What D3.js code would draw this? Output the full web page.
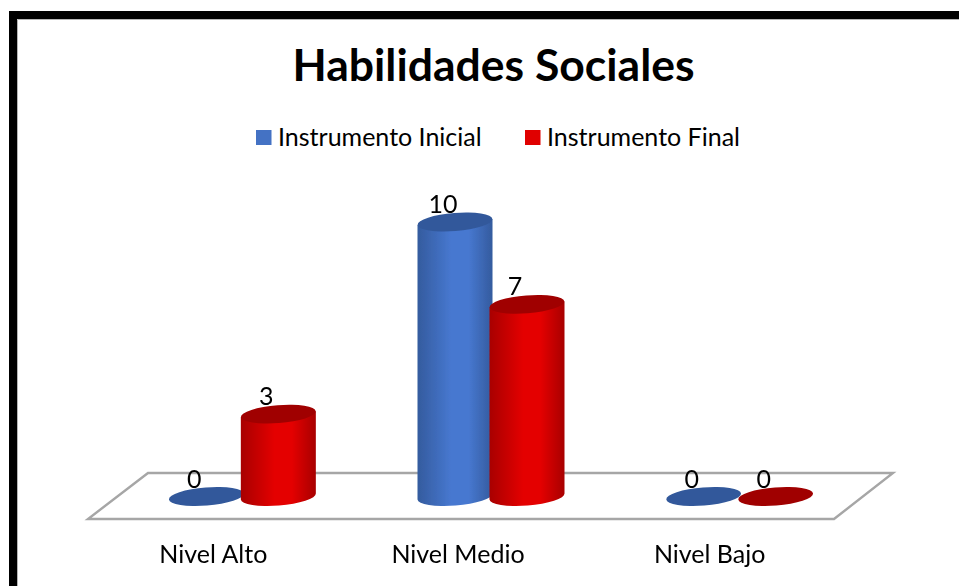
<!DOCTYPE html>
<html>
<head>
<meta charset="utf-8">
<script src="https://cdn.jsdelivr.net/npm/d3@7/dist/d3.min.js"></script>
<style>
body { margin: 0; background: #fff; }
svg { display: block; }
text { font-family: Lato, "Open Sans", sans-serif; fill: #000; }
</style>
</head>
<body>
<div id="chart-area"></div>
<script>
var categories = ["Nivel Alto", "Nivel Medio", "Nivel Bajo"];
var seriesNames = ["Instrumento Inicial", "Instrumento Final"];
var inicial = [0, 10, 0];
var final = [3, 7, 0];

var width = 959;
var height = 586;

var colors = {
	"Instrumento Inicial": {legend: "#4472c4", edge: "#345b9e", mid: "#4778d0", top: "#32599b"},
	"Instrumento Final": {legend: "#e00000", edge: "#a80000", mid: "#e40000", top: "#a00000"}
};

var svg = d3.select("#chart-area").append("svg")
	.attr("width", width)
	.attr("height", height);

var defs = svg.append("defs");
seriesNames.forEach((s, i) => {
	var g = defs.append("linearGradient").attr("id", "cyl" + i);
	g.append("stop").attr("offset", "0%").attr("stop-color", colors[s].edge);
	g.append("stop").attr("offset", "45%").attr("stop-color", colors[s].mid);
	g.append("stop").attr("offset", "68%").attr("stop-color", colors[s].mid);
	g.append("stop").attr("offset", "100%").attr("stop-color", colors[s].edge);
});
defs.append("filter").attr("id", "soft")
	.append("feGaussianBlur").attr("stdDeviation", 0.6);

// frame, only top and left are visible
svg.append("path")
	.attr("d", "M13,586V15H959")
	.attr("fill", "none")
	.attr("stroke", "#000")
	.attr("stroke-width", 8);
svg.append("path")
	.attr("d", "M17.5,586V19.5H959")
	.attr("fill", "none")
	.attr("stroke", "#b5b5b5")
	.attr("stroke-width", 1);

svg.append("text")
	.attr("x", 493.5)
	.attr("y", 81)
	.attr("text-anchor", "middle")
	.attr("font-size", 44.5)
	.attr("font-weight", "bold")
	.text("Habilidades Sociales");

// legend
var legendX = [256, 525];
seriesNames.forEach((s, i) => {
	svg.append("rect")
		.attr("x", legendX[i])
		.attr("y", 130)
		.attr("width", 15.5)
		.attr("height", 15)
		.attr("fill", colors[s].legend);
	svg.append("text")
		.attr("x", legendX[i] + 22)
		.attr("y", 146)
		.attr("font-size", 25)
		.text(s);
});

var x0 = d3.scaleBand()
	.domain(categories)
	.range([118, 864]);
var x1 = d3.scaleBand()
	.domain(seriesNames)
	.range([x0.bandwidth() / 2 - 72, x0.bandwidth() / 2 + 72]);
var y = d3.scaleLinear()
	.domain([0, 10])
	.range([496.5, 222]);

// floor
var floorTop = y(0) - 23.5;
var floorBottom = y(0) + 22.5;
svg.append("path")
	.attr("d", [
		"M", x0.range()[0] + 30, floorTop,
		"L", x0.range()[1] + 29, floorTop,
		"L", x0.range()[1] - 30, floorBottom,
		"L", x0.range()[0] - 30, floorBottom, "Z"
	].join(" "))
	.attr("fill", "#fff")
	.attr("stroke", "#a6a6a6")
	.attr("stroke-width", 2.4);

var rx = 37.5;
var ry = 9;
var tilt = -4.5;
var dy = rx * Math.sin(-tilt * Math.PI / 180);

var rows = [];
categories.forEach((c, i) => {
	rows.push({cat: c, s: seriesNames[0], si: 0, v: inicial[i]});
	rows.push({cat: c, s: seriesNames[1], si: 1, v: final[i]});
});

var bars = svg.append("g").attr("filter", "url(#soft)");

rows.forEach((d) => {
	var cx = x0(d.cat) + x1(d.s) + x1.bandwidth() / 2;
	var yt = y(d.v);
	var yb = y(0);
	if (d.v > 0) {
		bars.append("path")
			.attr("d", "M" + (cx - rx) + "," + (yt + dy) +
				"L" + (cx - rx) + "," + (yb + dy) +
				"A" + rx + "," + ry + " " + tilt + " 0 0 " + (cx + rx) + "," + (yb - dy) +
				"L" + (cx + rx) + "," + (yt - dy) + "Z")
			.attr("fill", "url(#cyl" + d.si + ")");
	}
	bars.append("ellipse")
		.attr("cx", cx)
		.attr("cy", yt)
		.attr("rx", rx)
		.attr("ry", ry)
		.attr("transform", "rotate(" + tilt + "," + cx + "," + yt + ")")
		.attr("fill", colors[d.s].top);
});

// value labels sit up and left of the cylinder top
rows.forEach((d) => {
	svg.append("text")
		.attr("x", x0(d.cat) + x1(d.s) + x1.bandwidth() / 2 - 12)
		.attr("y", y(d.v) - 9)
		.attr("text-anchor", "middle")
		.attr("font-size", 25)
		.text(d.v);
});

var labelShift = [-29, -33, -30];
categories.forEach((c, i) => {
	svg.append("text")
		.attr("x", x0(c) + x0.bandwidth() / 2 + labelShift[i])
		.attr("y", 563)
		.attr("text-anchor", "middle")
		.attr("font-size", 25)
		.text(c);
});
</script>
</body>
</html>
